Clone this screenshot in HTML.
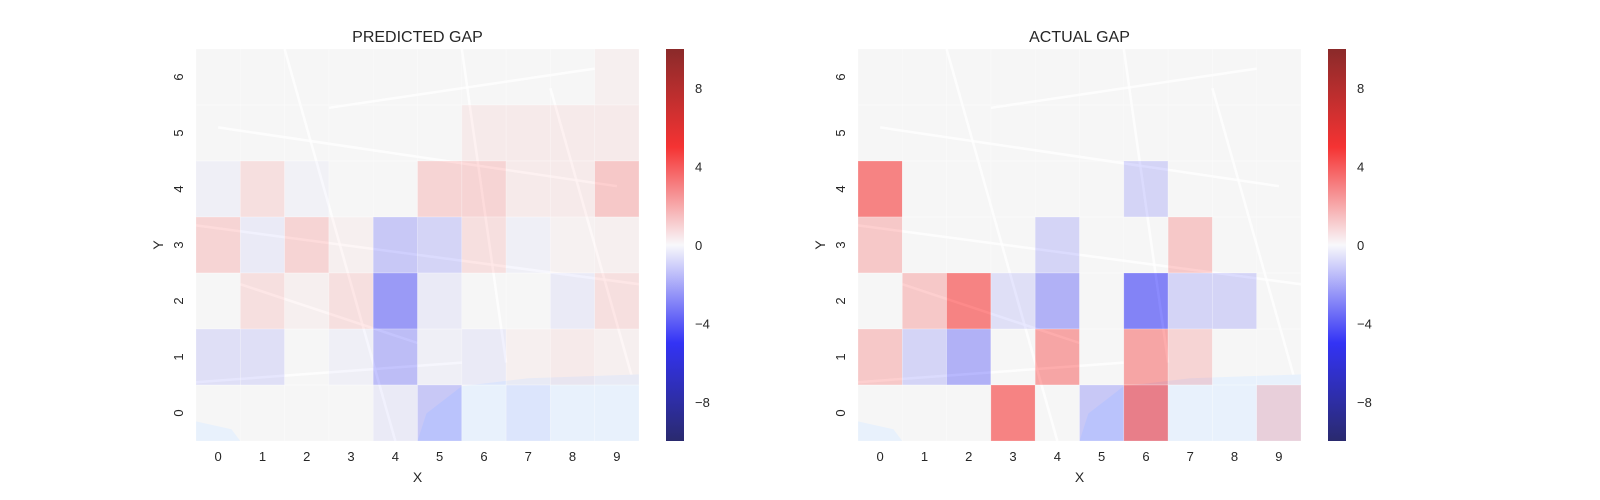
<!DOCTYPE html>
<html><head><meta charset="utf-8"><style>
body{margin:0;background:#fff;font-family:"Liberation Sans",sans-serif}
svg{display:block}
</style></head><body>
<svg id="chart" width="1600" height="500" viewBox="0 0 1600 500" xmlns="http://www.w3.org/2000/svg">
<defs>
<linearGradient id="seis" x1="0" y1="1" x2="0" y2="0">
<stop offset="0" stop-color="#2a2a6e"/>
<stop offset="0.25" stop-color="#3333f5"/>
<stop offset="0.5" stop-color="#f8f8fb"/>
<stop offset="0.75" stop-color="#f53333"/>
<stop offset="1" stop-color="#8a2a2a"/>
</linearGradient>
</defs>
</svg>
<script>
const xCats = [0,1,2,3,4,5,6,7,8,9];
const yCats = [6,5,4,3,2,1,0];
const cbTicks = [8,4,0,-4,-8];
// rows listed top (y=6) to bottom (y=0)
const predicted = [
 [0,0,0,0,0,0,0,0,0,0.3],
 [0,0,0,0,0,0,0.5,0.5,0.5,0.5],
 [-0.3,1,-0.2,0,0,1.5,1.5,0.5,0.5,2],
 [1.5,-0.5,1.5,0.3,-2,-1.5,1,-0.3,0.2,0.3],
 [0,1,0.3,1,-4,-0.5,0,0,-0.5,1],
 [-1,-1,0,-0.3,-2.5,-0.3,-0.5,0.3,0.5,0.3],
 [0,0,0,0,-0.5,-2,0,-0.5,0,0]
];
const actual = [
 [0,0,0,0,0,0,0,0,0,0],
 [0,0,0,0,0,0,0,0,0,0],
 [5,0,0,0,0,0,-1.5,0,0,0],
 [2,0,0,0,-1.5,0,0,2,0,0],
 [0,2,5,-1,-3,0,-5,-1.5,-1.5,0],
 [2,-1.5,-3,0,3.5,0,3.5,1.5,0,0],
 [0,0,0,5,0,-2,5,0,0,1.5]
];
const vmin=-10, vmax=10;
const NS='http://www.w3.org/2000/svg';
const svg=document.getElementById('chart');
function mk(tag,attrs,parent){const e=document.createElementNS(NS,tag);for(const k in attrs)e.setAttribute(k,attrs[k]);(parent||svg).appendChild(e);return e;}
function seismic(v){
  let t=(v-vmin)/(vmax-vmin); t=Math.max(0,Math.min(1,t));
  let r,g,b;
  if(t<0.25){const s=t/0.25;r=0;g=0;b=0.3+0.7*s;}
  else if(t<0.5){const s=(t-0.25)/0.25;r=s;g=s;b=1;}
  else if(t<0.75){const s=(t-0.5)/0.25;r=1;g=1-s;b=1-s;}
  else {const s=(t-0.75)/0.25;r=1-0.5*s;g=0;b=0;}
  return `rgb(${Math.round(r*255)},${Math.round(g*255)},${Math.round(b*255)})`;
}
function panel(x0,title,data,key){
  const y0=49,W=443,H=392,cw=W/xCats.length,ch=H/yCats.length;
  const xs=i=>x0+i*cw, ys=j=>y0+j*ch;
  const g=mk('g',{});
  
  
  const bg=mk('g',{},g);
  
  
  mk('rect',{x:x0,y:y0,width:W,height:H,fill:'#efefef'},bg);
  const roads=[[0.05,0.2,0.95,0.35],[0,0.45,1,0.6],[0.2,0,0.45,1],[0.6,0,0.7,0.8],[0.8,0.1,1,0.9],[0,0.85,0.6,0.8],[0.3,0.15,0.9,0.05],[0.1,0.6,0.5,0.75]];
  roads.forEach(r=>mk('line',{x1:x0+r[0]*W,y1:y0+r[1]*H,x2:x0+r[2]*W,y2:y0+r[3]*H,stroke:'#fff','stroke-width':2.5,'stroke-opacity':0.8},bg));
  const wp=[[0.6,0.86],[0.75,0.84],[1,0.83],[1,1],[0.5,1],[0.52,0.93]];
  mk('polygon',{points:wp.map(p=>(x0+p[0]*W)+','+(y0+p[1]*H)).join(' '),fill:'#d6e6fa'},bg);
  mk('polygon',{points:[[0,0.95],[0.08,0.97],[0.1,1],[0,1]].map(p=>(x0+p[0]*W)+','+(y0+p[1]*H)).join(' '),fill:'#d6e6fa'},bg);
  data.forEach((row,j)=>row.forEach((v,i)=>{
    const c=mk('rect',{x:xs(i),y:ys(j),width:cw,height:ch,fill:seismic(v),'fill-opacity':0.45,stroke:'#fff','stroke-opacity':0.35,'stroke-width':0.6},g);
    
    
  }));
  const t=mk('text',{x:x0+W/2,y:42,'text-anchor':'middle','font-size':16,fill:'#262626'},g);
  t.textContent=title;
  
  
  xCats.forEach((c,i)=>{const e=mk('text',{x:xs(i)+cw/2,y:461,'text-anchor':'middle','font-size':13,fill:'#262626'},g);e.textContent=c;
    
    });
  yCats.forEach((c,j)=>{const yy=ys(j)+ch/2,e=mk('text',{x:0,y:0,transform:`translate(${x0-13},${yy}) rotate(-90)`,'text-anchor':'middle','font-size':13,fill:'#262626'},g);e.textContent=c;
    
    });
  const xl=mk('text',{x:x0+W/2,y:482,'text-anchor':'middle','font-size':14,fill:'#262626'},g);xl.textContent='X';
  
  
  const yl=mk('text',{x:0,y:0,transform:`translate(${x0-33},${y0+H/2}) rotate(-90)`,'text-anchor':'middle','font-size':14,fill:'#262626'},g);yl.textContent='Y';
  
  
  const cx=x0+470,cbw=18;
  const cb=mk('rect',{x:cx,y:y0,width:cbw,height:H,fill:'url(#seis)'},g);
  
  
  const cy=v=>y0+H*(vmax-v)/(vmax-vmin);
  cbTicks.forEach(v=>{const e=mk('text',{x:cx+cbw+11,y:cy(v)+5,'font-size':13,fill:'#262626'},g);e.textContent=v<0?'\u2212'+(-v):v;
    
    });
}
panel(196,'PREDICTED GAP',predicted,'predicted');
panel(858,'ACTUAL GAP',actual,'actual');
</script>
</body></html>
